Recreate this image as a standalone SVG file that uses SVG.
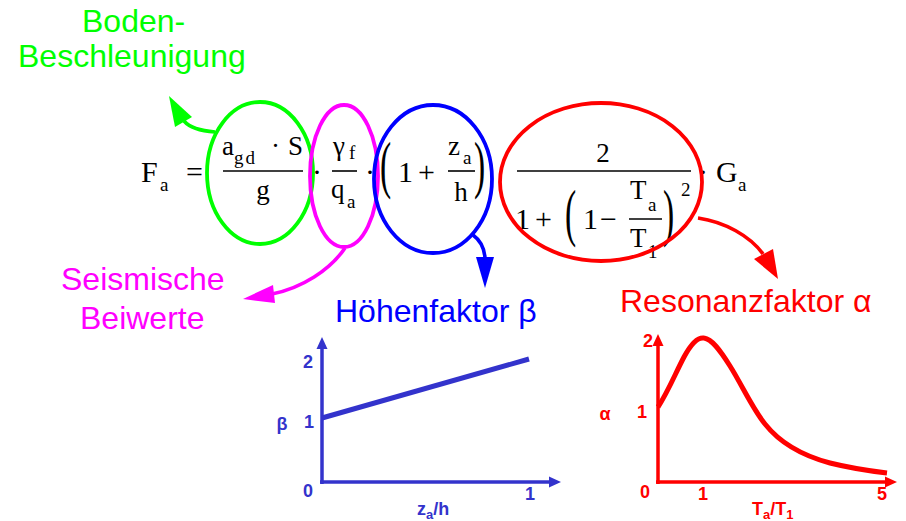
<svg xmlns="http://www.w3.org/2000/svg" width="906" height="521" viewBox="0 0 906 521">
<style>
.f{font-family:"Liberation Serif","Times New Roman",serif;fill:#000}
.m{font-size:30px}
.n{font-size:27px}
.s{font-size:19px}
.p{font-size:42px}
.fl{stroke:#000;stroke-width:1.6}
.lab{font-family:"Liberation Sans",Arial,sans-serif;font-size:32px}
.ell{fill:none;stroke-width:3.8}
.arr{fill:none;stroke-width:3.6}
.gb{font-family:"Liberation Sans",Arial,sans-serif;font-size:18px;font-weight:bold;fill:#3333cc}
.gr{font-family:"Liberation Sans",Arial,sans-serif;font-size:18px;font-weight:bold;fill:#ff0000}
</style>
<rect width="906" height="521" fill="#fff"/>

<g id="formula" class="f">
  <text class="m" x="141" y="182">F</text>
  <text class="s" x="160" y="191">a</text>
  <text class="m" x="186" y="182">=</text>
  <!-- green term -->
  <text class="n" x="222" y="155">a</text>
  <text class="s" x="234" y="164" letter-spacing="2">gd</text>
  <text class="n" x="271" y="155">·</text>
  <text class="n" x="288" y="155">S</text>
  <line class="fl" x1="223" y1="171" x2="303" y2="171"/>
  <text class="n" x="263" y="199" text-anchor="middle">g</text>
  <text class="m" x="312" y="182">·</text>
  <!-- magenta term -->
  <text class="n" x="333" y="155">γ</text>
  <text class="s" x="349" y="159">f</text>
  <line class="fl" x1="332" y1="171" x2="357" y2="171"/>
  <text class="n" x="331" y="198">q</text>
  <text class="s" x="347" y="208">a</text>
  <text class="m" x="365" y="182">·</text>
  <!-- blue term -->
  <text class="p" transform="translate(380,186) scale(0.8,1.5)">(</text>
  <text class="m" x="398" y="182">1</text>
  <text class="m" x="418" y="182">+</text>
  <text class="n" x="448" y="155">z</text>
  <text class="s" x="463" y="164">a</text>
  <line class="fl" x1="448" y1="171" x2="475" y2="171"/>
  <text class="n" x="461" y="201" text-anchor="middle">h</text>
  <text class="p" transform="translate(474,186) scale(0.8,1.5)">)</text>
  <!-- red term -->
  <text class="n" x="603" y="162" text-anchor="middle">2</text>
  <line class="fl" x1="517" y1="171" x2="691" y2="171"/>
  <text class="m" x="515" y="229">1</text>
  <text class="m" x="535" y="229">+</text>
  <text class="p" transform="translate(565,234) scale(0.8,1.5)">(</text>
  <text class="m" x="583" y="229">1</text>
  <text class="m" x="600" y="229">−</text>
  <text class="n" x="630" y="199">T</text>
  <text class="s" x="648" y="211">a</text>
  <line class="fl" x1="629" y1="219" x2="662" y2="219"/>
  <text class="n" x="630" y="247">T</text>
  <text class="s" x="648" y="258">1</text>
  <text class="p" transform="translate(663,234) scale(0.8,1.5)">)</text>
  <text class="s" x="681" y="196">2</text>
  <text class="m" x="698" y="182">·</text>
  <text class="m" x="716" y="182">G</text>
  <text class="s" x="738" y="191">a</text>
</g>

<g id="ellipse-boden">
  <ellipse class="ell" cx="260" cy="173" rx="53" ry="71" stroke="#00ff00"/>
</g>
<g id="ellipse-seismisch">
  <ellipse class="ell" cx="344" cy="176" rx="34" ry="71" stroke="#ff00ff"/>
</g>
<g id="ellipse-hoehe">
  <ellipse class="ell" cx="433" cy="179" rx="59" ry="74" stroke="#0000ff"/>
</g>
<g id="ellipse-resonanz">
  <ellipse class="ell" cx="601" cy="182" rx="101" ry="79" stroke="#ff0000"/>
</g>

<g id="label-boden" class="lab" fill="#00ff00">
  <text x="82" y="32">Boden-</text>
  <text x="18" y="67">Beschleunigung</text>
</g>
<g id="label-seismisch" class="lab" fill="#ff00ff">
  <text x="61" y="290">Seismische</text>
  <text x="80" y="329">Beiwerte</text>
</g>
<g id="label-hoehe" class="lab" fill="#0000ff">
  <text x="335" y="322">Höhenfaktor β</text>
</g>
<g id="label-resonanz" class="lab" fill="#ff0000">
  <text x="620" y="312">Resonanzfaktor α</text>
</g>

<g id="connectors">
  <path class="arr" stroke="#00ff00" d="M215,132 C202,131 190,128 184,121"/>
  <polygon fill="#00ff00" points="169,96 175,127 192,117"/>
  <path class="arr" stroke="#ff00ff" d="M345,248 C330,270 302,288 272,294"/>
  <polygon fill="#ff00ff" points="243,299 273,285 275,303"/>
  <path class="arr" stroke="#0000ff" d="M473,235 Q484,243 485,258"/>
  <polygon fill="#0000ff" points="476,257 494,257 485,288"/>
  <path class="arr" stroke="#ff0000" d="M698,218 C725,222 750,236 763,254"/>
  <polygon fill="#ff0000" points="754,259 773,249 778,279"/>
</g>

<g id="graph-beta">
  <line x1="322" y1="484" x2="322" y2="346" stroke="#3333cc" stroke-width="3.5"/>
  <polygon fill="#3333cc" points="322,337 316.5,349 327.5,349"/>
  <line x1="320" y1="482" x2="551" y2="482" stroke="#3333cc" stroke-width="3.5"/>
  <polygon fill="#3333cc" points="561,482 549,476.5 549,487.5"/>
  <line x1="322" y1="418" x2="529" y2="359" stroke="#3333cc" stroke-width="5"/>
  <text class="gb" x="308" y="368" text-anchor="middle">2</text>
  <text class="gb" x="309" y="428" text-anchor="middle">1</text>
  <text class="gb" x="282" y="430" text-anchor="middle">β</text>
  <text class="gb" x="308" y="497" text-anchor="middle">0</text>
  <text class="gb" x="530" y="500" text-anchor="middle">1</text>
  <text class="gb" x="417" y="515">z<tspan font-size="13" dy="4">a</tspan><tspan dy="-4">/h</tspan></text>
</g>

<g id="graph-alpha">
  <line x1="658" y1="484" x2="658" y2="344" stroke="#ff0000" stroke-width="3.5"/>
  <polygon fill="#ff0000" points="658,334 652.5,346 663.5,346"/>
  <line x1="656" y1="482" x2="887" y2="482" stroke="#ff0000" stroke-width="3.5"/>
  <polygon fill="#ff0000" points="897,482 885,476.5 885,487.5"/>
  <path fill="none" stroke="#ff0000" stroke-width="5" d="M658,407 C668,392 676,372 684,357 C692,342 698,337 704,338 C712,339 720,350 730,366 C742,385 752,408 765,424 C780,443 800,455 830,463 C850,468 870,471 887,473"/>
  <text class="gr" x="648" y="347" text-anchor="middle">2</text>
  <text class="gr" x="642" y="418" text-anchor="middle">1</text>
  <text class="gr" x="605" y="420" text-anchor="middle">α</text>
  <text class="gr" x="645" y="498" text-anchor="middle">0</text>
  <text class="gr" x="703" y="500" text-anchor="middle">1</text>
  <text class="gr" x="882" y="500" text-anchor="middle">5</text>
  <text class="gr" x="752" y="515">T<tspan font-size="13" dy="4">a</tspan><tspan dy="-4">/T</tspan><tspan font-size="13" dy="4">1</tspan></text>
</g>
</svg>
